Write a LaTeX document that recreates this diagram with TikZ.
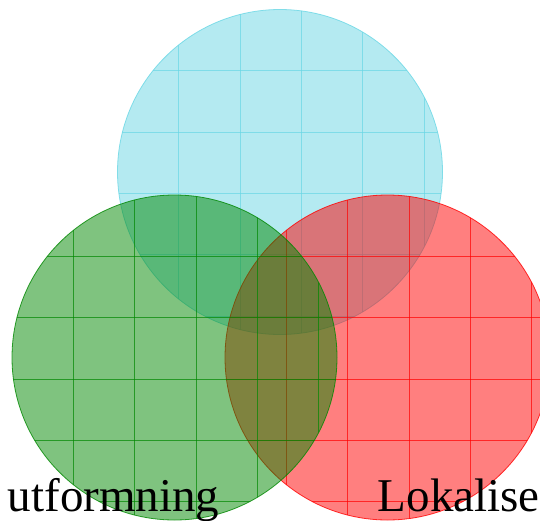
\documentclass[tikz,border=0pt]{standalone}
\usepackage{fontspec}
\setmainfont{Liberation Serif}
\definecolor{cyc}{RGB}{105,214,228}
\definecolor{grc}{RGB}{0,135,0}
\definecolor{rdc}{RGB}{255,0,0}
\begin{document}
\begin{tikzpicture}[x=0.5pt,y=-0.5pt,
  venn/.style={circle, inner sep=0pt, minimum size=162.5pt, fill opacity=0.5, draw opacity=0.8, line width=0.4pt},
  gridline/.style={line width=0.4pt, draw opacity=0.7},
  label/.style={anchor=base west, inner sep=0pt, text=black, font=\fontsize{23.5}{28}\selectfont}]
\useasboundingbox (0,0) rectangle (540,520);
% cyan circle
\node[venn, draw=cyc, fill=cyc] (C) at (280,172) {};
\begin{scope}
  \clip (C.center) circle[radius=162.5];
  \foreach \k in {1,...,5} {
    \draw[gridline, cyc] (117.5+\k*61.3,0) -- (117.5+\k*61.3,520);
    \draw[gridline, cyc] (0,9.5+\k*61.3) -- (540,9.5+\k*61.3);
  }
\end{scope}
% red circle
\node[venn, draw=rdc, fill=rdc] (R) at (387.5,357.5) {};
\begin{scope}
  \clip (R.center) circle[radius=162.5];
  \foreach \k in {1,...,5} {
    \draw[gridline, rdc] (225+\k*61.3,0) -- (225+\k*61.3,520);
    \draw[gridline, rdc] (0,195+\k*61.3) -- (560,195+\k*61.3);
  }
\end{scope}
% green circle
\node[venn, draw=grc, fill=grc] (G) at (174.5,357.5) {};
\begin{scope}
  \clip (G.center) circle[radius=162.5];
  \foreach \k in {1,...,5} {
    \draw[gridline, grc] (12+\k*61.3,0) -- (12+\k*61.3,520);
    \draw[gridline, grc] (0,195+\k*61.3) -- (540,195+\k*61.3);
  }
\end{scope}
\node[label] (t1) at (7.5,511) {utformning};
\node[label] (t2) at (377.5,511) {Lokalise};
\end{tikzpicture}
\end{document}
